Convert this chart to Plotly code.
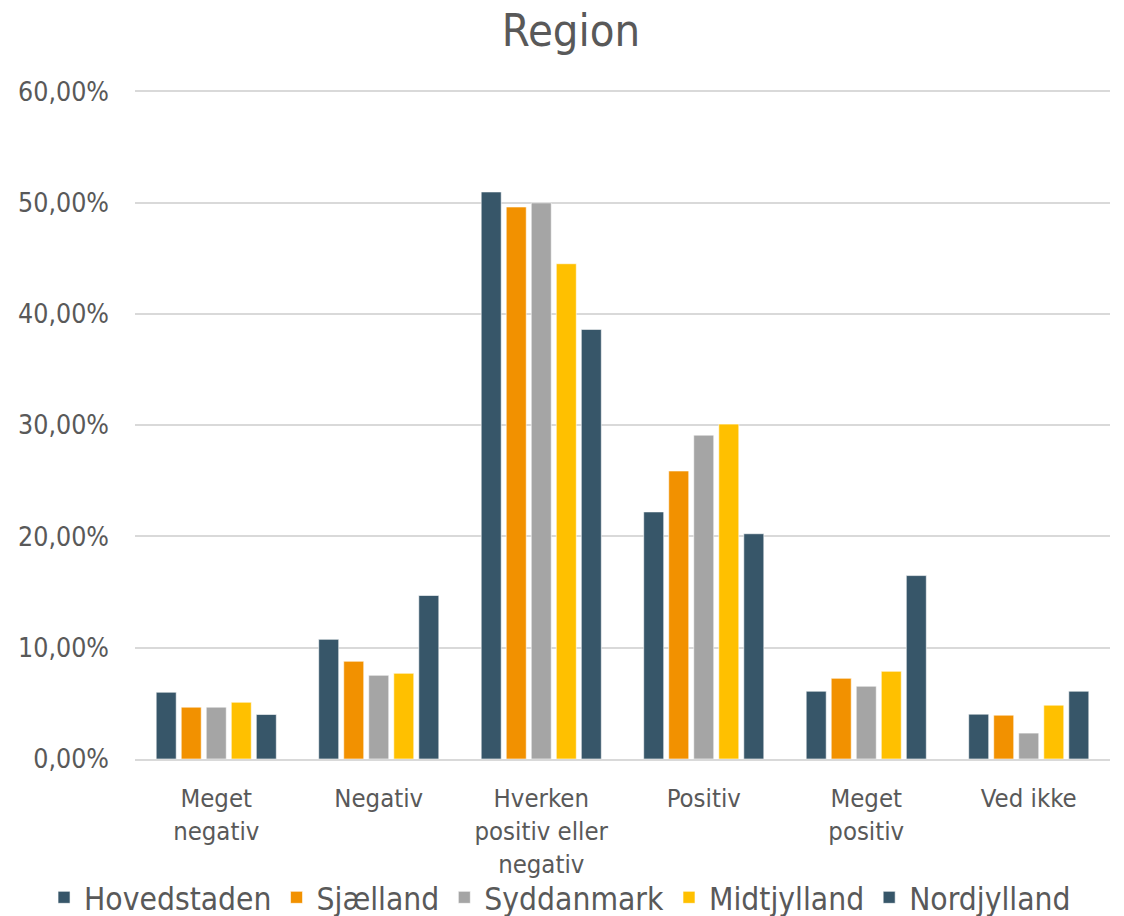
import plotly.graph_objects as go

categories = ["Meget<br>negativ", "Negativ", "Hverken<br>positiv eller<br>negativ", "Positiv", "Meget<br>positiv", "Ved ikke"]
series_names = ["Hovedstaden", "Sjælland", "Syddanmark", "Midtjylland", "Nordjylland"]
hovedstaden = [0.0600, 0.1075, 0.5095, 0.2220, 0.0609, 0.0403]
sjaelland = [0.0466, 0.0878, 0.4960, 0.2588, 0.0725, 0.0394]
syddanmark = [0.0466, 0.0752, 0.4997, 0.2910, 0.0654, 0.0233]
midtjylland = [0.0510, 0.0770, 0.4450, 0.3009, 0.0788, 0.0484]
nordjylland = [0.0400, 0.1469, 0.3860, 0.2024, 0.1648, 0.0609]
colors = ["#375669", "#F29100", "#A5A5A5", "#FFC000", "#375669"]

values = [hovedstaden, sjaelland, syddanmark, midtjylland, nordjylland]

fig = go.Figure()
for name, vals, col in zip(series_names, values, colors):
    fig.add_trace(go.Bar(x=categories, y=vals, name=name, marker_color=col,
                         marker_line=dict(color="rgba(255,255,255,0.6)", width=1)))

W, H = 1124, 916
font_family = "DejaVu Sans Condensed, Liberation Sans Narrow, DejaVu Sans, sans-serif"
fig.update_layout(
    width=W, height=H,
    paper_bgcolor="white", plot_bgcolor="white",
    font=dict(family=font_family, color="#595959", size=26),
    title=dict(text="Region", x=571 / W, xanchor="center", y=1 - 30 / H, yanchor="middle",
               font=dict(size=45, color="#595959")),
    barmode="group", bargap=0.23, bargroupgap=0.2,
    margin=dict(l=135, r=14, t=89, b=157, autoexpand=False),
    separators=",.",
    legend=dict(orientation="h", x=-0.0933, xanchor="left", y=-0.2065, yanchor="middle",
                font=dict(size=31.5, color="#595959"), itemwidth=30, traceorder="normal",
                bgcolor="rgba(0,0,0,0)", tracegroupgap=0),
    yaxis=dict(range=[0, 0.602], dtick=0.1, tickformat=".2%", showgrid=True,
               gridcolor="#D9D9D9", gridwidth=1.5, zeroline=False, ticks="",
               tickfont=dict(size=26.5), ticklabelstandoff=25),
    xaxis=dict(showline=True, linecolor="#D9D9D9", linewidth=2, ticks="",
               tickfont=dict(size=25.5), ticklabelstandoff=15),
)
fig.write_html(
    "out.html",
    config={"displayModeBar": False},
    post_script="document.body.style.margin='0';document.body.style.overflow='hidden';"
                "document.documentElement.style.overflow='hidden';",
)
